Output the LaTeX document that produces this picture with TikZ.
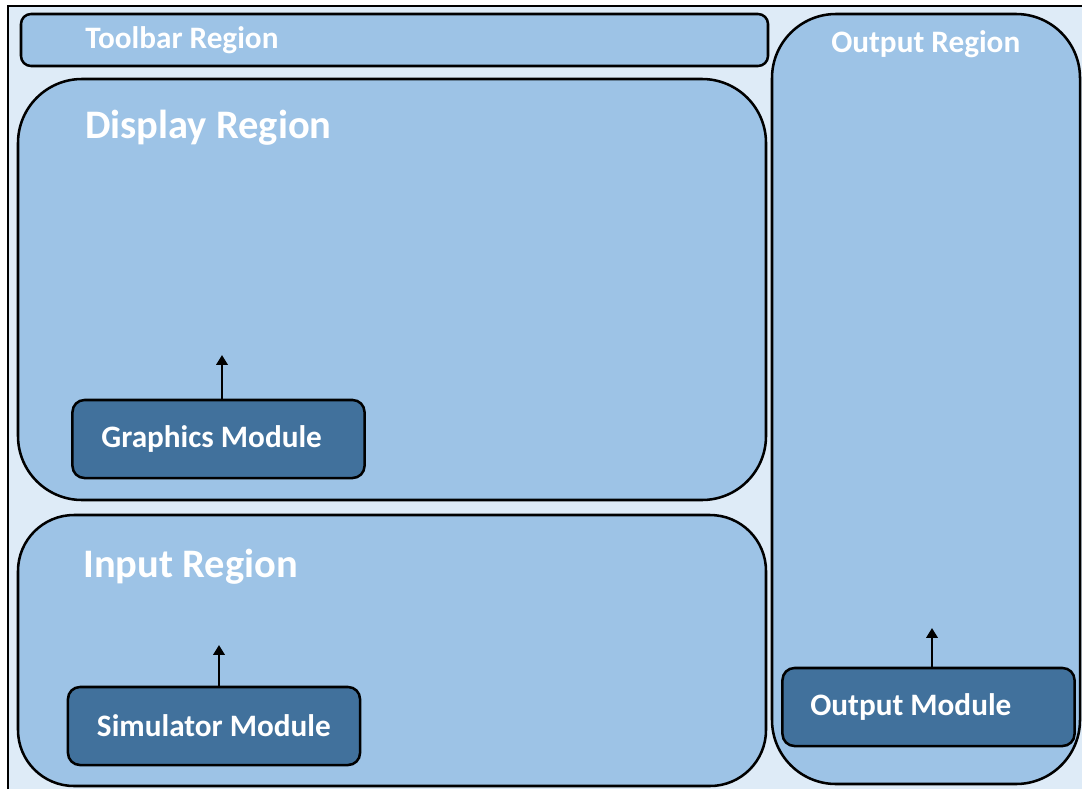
\documentclass[tikz,border=0pt]{standalone}
\usepackage{fontspec}
\setmainfont{Carlito}
\usetikzlibrary{positioning, arrows.meta}
\definecolor{bgblue}{HTML}{DEEBF7}
\definecolor{regblue}{HTML}{9DC3E6}
\definecolor{modblue}{HTML}{41719C}

\begin{document}
\begin{tikzpicture}[x=0.025cm, y=-0.025cm,
		region/.style={draw, line width=1.8pt, fill=regblue},
		title/.style={anchor=base west, inner sep=0pt, text=white, font=\bfseries\fontsize{28.8}{30}\selectfont},
		subtitle/.style={title, font=\bfseries\fontsize{22.2}{24}\selectfont},
		module/.style={draw, line width=1.8pt, fill=modblue, rounded corners=0.3cm, minimum width=7.3cm, minimum height=1.95cm},
		modlabel/.style={inner sep=0pt, text=white, font=\bfseries\fontsize{22.2}{24}\selectfont},
		flow/.style={line width=1.8pt, -{Triangle[width=8pt, length=7pt]}}]
		\useasboundingbox (0, 0) rectangle (1082, 789);
		\fill[bgblue] (8, 6) rectangle (1082, 789);
		\draw[line width=1.8pt] (8, 789) -- (8, 6) -- (1082, 6);
		% regions
		\draw[region, rounded corners=0.25cm] (21, 14) rectangle (768, 66);
		\draw[region, rounded corners=1.6cm] (18, 79) rectangle (766, 500);
		\draw[region, rounded corners=1.4cm] (18, 515) rectangle (766, 786);
		\draw[region, rounded corners=1.6cm] (772, 14) rectangle (1080, 784);
		\node[subtitle] (toolbar) at (85, 48) {Toolbar Region};
		\node[title] (display) at (85, 138) {Display Region};
		\node[title] (input) at (83, 577) {Input Region};
		\node[subtitle] (output) at (831, 52) {Output Region};
		% modules
		\node[module] (gfx) at (218.5, 439) {};
		\node[modlabel, right=0.75cm of gfx.west] (gfxlabel) {Graphics Module};
		\node[module] (sim) at (214, 726) {};
		\node[modlabel, right=0.75cm of sim.west] (simlabel) {Simulator Module};
		\node[module] (out) at (928.5, 707) {};
		\node[modlabel, right=0.72cm of out.west] (outlabel) {Output Module};
		\coordinate (gfxtip) at (222, 355);
		\coordinate (simtip) at (219, 645);
		\coordinate (outtip) at (932, 628);
		\draw[flow] (gfx.north -| gfxtip) -- (gfxtip);
		\draw[flow] (sim.north -| simtip) -- (simtip);
		\draw[flow] (out.north -| outtip) -- (outtip);
	\end{tikzpicture}
\end{document}
